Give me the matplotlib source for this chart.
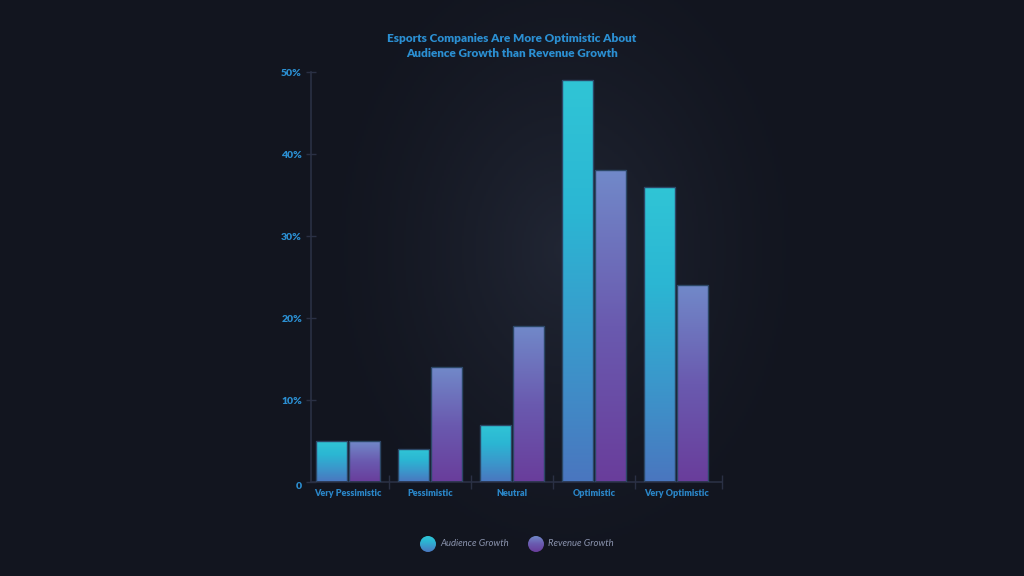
import matplotlib
matplotlib.use("Agg")
import matplotlib.pyplot as plt
import numpy as np
from matplotlib.colors import LinearSegmentedColormap
from matplotlib.patches import Rectangle, Circle

# données
categories = ["Very Pessimistic", "Pessimistic", "Neutral", "Optimistic", "Very Optimistic"]
audience = [5, 4, 7, 49, 36]
revenue = [5, 14, 19, 38, 24]
y_ticks = [0, 10, 20, 30, 40, 50]
y_labels = ["0", "10%", "20%", "30%", "40%", "50%"]
title = "Esports Companies Are More Optimistic About\nAudience Growth than Revenue Growth"
series_names = ["Audience Growth", "Revenue Growth"]

plt.rcParams['font.family'] = ['Lato', 'DejaVu Sans']

bg = "#12151f"
blue_txt = "#2b8fd2"
axis_col = "#2a3044"

cmap_aud = LinearSegmentedColormap.from_list("aud", ["#4a76bf", "#3b97cb", "#2bb6d3", "#30c5d6"])
cmap_rev = LinearSegmentedColormap.from_list("rev", ["#693d9b", "#6a5aaf", "#7189c9"])

fig = plt.figure(figsize=(10.24, 5.76), dpi=100, facecolor=bg)

# fond avec halo
bgax = fig.add_axes([0, 0, 1, 1], zorder=-1)
xx, yy = np.meshgrid(np.linspace(0, 1024, 512), np.linspace(0, 576, 288))
d = np.sqrt(((xx - 565) / 260) ** 2 + ((yy - 250) / 340) ** 2)
glow = np.clip(1 - d, 0, 1) ** 1.5
base = np.array([0x12, 0x15, 0x1f]) / 255
light = np.array([0x21, 0x26, 0x34]) / 255
img = base + glow[..., None] * (light - base)
bgax.imshow(img, extent=(0, 1024, 576, 0), aspect='auto')
bgax.set_axis_off()

ax = fig.add_axes([311 / 1024, 94 / 576, 411 / 1024, 410 / 576])
ax.set_facecolor("none")
ax.set_xlim(-0.45, 4.56)
ax.set_ylim(0, 50)

w = 0.378
grad = np.linspace(0, 1, 256).reshape(-1, 1)
x = np.arange(len(categories))
for i in x:
    for val, off, cm in [(audience[i], -0.2, cmap_aud), (revenue[i], 0.2, cmap_rev)]:
        x0 = i + off - w / 2
        im = ax.imshow(grad, cmap=cm, origin='lower', extent=(x0, x0 + w, 0, val),
                       aspect='auto', zorder=2, interpolation='bilinear')
        rect = Rectangle((x0, 0), w, val, fill=False, edgecolor="#2c4766",
                         linewidth=1, zorder=3)
        ax.add_patch(rect)
        im.set_clip_path(rect)

for s in ["top", "right"]:
    ax.spines[s].set_visible(False)
for s in ["left", "bottom"]:
    ax.spines[s].set_color(axis_col)
    ax.spines[s].set_linewidth(1.2)

ax.set_yticks(y_ticks)
ax.set_yticklabels(y_labels, fontweight='heavy')
ax.tick_params(axis='y', direction='inout', length=7, width=1, color=axis_col,
               labelcolor=blue_txt, labelsize=7.5, pad=3)
ax.get_yticklabels()[0].set_va('top')

ax.set_xticks([0.5, 1.5, 2.5, 3.5, 4.56])
ax.set_xticklabels([])
ax.set_xticks(x, minor=True)
ax.set_xticklabels(categories, minor=True, fontweight='heavy')
ax.tick_params(axis='x', which='major', direction='inout', length=10, width=1, color=axis_col)
ax.tick_params(axis='x', which='minor', length=0, labelcolor="#2a86c8", labelsize=6.5, pad=5)

fig.text(0.5, 0.92, title, ha='center', va='center', color=blue_txt,
         fontsize=8.5, fontweight='heavy', linespacing=1.4)

# légende
lax = fig.add_axes([0, 0, 1, 1], zorder=5)
lax.set_xlim(0, 1024)
lax.set_ylim(576, 0)
lax.set_axis_off()
for cx, name, cm in [(428, series_names[0], cmap_aud), (536, series_names[1], cmap_rev)]:
    r = 8
    im = lax.imshow(grad, cmap=cm, origin='lower', extent=(cx - r, cx + r, 544 + r, 544 - r),
                    aspect='auto', zorder=5)
    c = Circle((cx, 544), r, transform=lax.transData)
    im.set_clip_path(c)
    lax.text(cx + 12, 544, name, ha='left', va='center', color="#8a93ad",
             fontsize=6.8, style='italic')
lax.set_xlim(0, 1024)
lax.set_ylim(576, 0)

fig.savefig("out.png", dpi=100, facecolor=bg)
